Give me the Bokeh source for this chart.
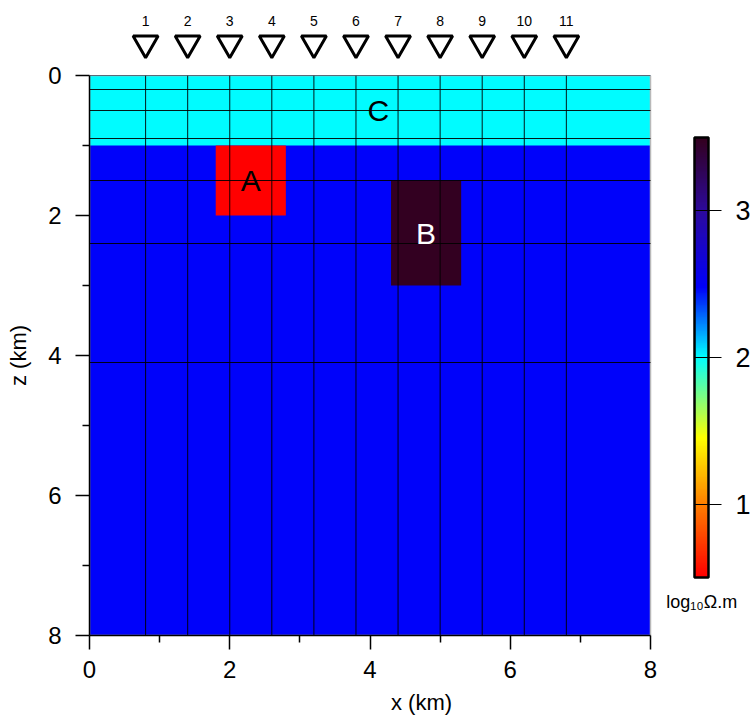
import numpy as np
from bokeh.plotting import figure
from bokeh.layouts import column
from bokeh.models import (Range1d, FixedTicker, ColorBar, LinearColorMapper,
                          ColumnDataSource, Label)
from bokeh.core.properties import value
from bokeh.embed import file_html
from bokeh.resources import INLINE

# ---- resistivity model (ohm.m) -------------------------------------------
block_name = ["background", "C", "A", "B"]
block_x0 = [0.0, 0.0, 1.8, 4.3]
block_x1 = [8.0, 8.0, 2.8, 5.3]
block_z0 = [0.0, 0.0, 1.0, 1.5]
block_z1 = [8.0, 1.0, 2.0, 3.0]
block_rho = [300.0, 100.0, 3.0, 3000.0]

# mesh lines drawn over the model
mesh_x = [0.8, 1.4, 2.0, 2.6, 3.2, 3.8, 4.4, 5.0, 5.6, 6.2, 6.8]
mesh_z = [0.0, 0.2, 0.5, 0.9, 1.5, 2.4, 4.1]

# MT stations on the surface
station_id = [1, 2, 3, 4, 5, 6, 7, 8, 9, 10, 11]
station_x = [0.8, 1.4, 2.0, 2.6, 3.2, 3.8, 4.4, 5.0, 5.6, 6.2, 6.8]

# anomaly tags
tag_text = ["A", "B", "C"]
tag_x = [2.3, 4.8, 4.12]
tag_z = [1.5, 2.25, 0.5]
tag_color = ["black", "white", "black"]

# colour scale, log10(ohm.m)
cbar_low, cbar_high = 0.5, 3.5
cbar_ticks = [1, 2, 3]
axis_major = [0, 2, 4, 6, 8]
axis_minor = [1, 3, 5, 7]

FONT = "Liberation Sans"

# palette: red -> orange -> yellow -> cyan -> blue -> indigo -> dark maroon
anchor_v = [0.5, 1.0, 1.45, 2.0, 2.48, 3.0, 3.5]
anchor_c = [(255, 0, 0), (255, 128, 0), (255, 255, 0), (0, 255, 255),
            (0, 0, 250), (45, 10, 156), (51, 0, 30)]
steps = np.linspace(cbar_low, cbar_high, 256)
chan = np.array(anchor_c, dtype=float)
palette = []
for v in steps:
    rgb = [np.interp(v, anchor_v, chan[:, k]) for k in range(3)]
    palette.append("#%02x%02x%02x" % tuple(int(round(c)) for c in rgb))
mapper = LinearColorMapper(palette=palette, low=cbar_low, high=cbar_high)

# ---- layout ---------------------------------------------------------------
W = 753
TOP_H, MAIN_H = 61, 656
main_top_px = 14
left_px, bottom_px = 89, 81
px_per_km = 561 / 8.0
x_range = Range1d(0, (W - left_px) / px_per_km)

# station strip above the model
top = figure(width=W, height=TOP_H, x_range=x_range,
             y_range=Range1d(-main_top_px / px_per_km, -(TOP_H + main_top_px) / px_per_km),
             output_backend="svg", toolbar_location=None,
             x_axis_type=None, y_axis_type=None,
             min_border_left=left_px, min_border_right=0,
             min_border_top=0, min_border_bottom=0)
top.xgrid.visible = False
top.ygrid.visible = False
top.outline_line_color = None

MARK_Z, NUM_Z = -0.46, -0.78
top.inverted_triangle(x=station_x, y=[MARK_Z] * len(station_x), size=25,
                      fill_color="white", line_color="black", line_width=3)
top.text(x=station_x, y=[NUM_Z] * len(station_x), text=[str(s) for s in station_id],
         text_align="center", text_baseline="middle",
         text_font=value(FONT), text_font_size="14px", text_color="black")

# model section
p = figure(width=W, height=MAIN_H, x_range=x_range, y_range=Range1d(8, 0),
           output_backend="svg", toolbar_location=None,
           min_border_left=left_px, min_border_right=0,
           min_border_top=main_top_px, min_border_bottom=bottom_px)
p.xgrid.visible = False
p.ygrid.visible = False
p.outline_line_color = None

z_top, z_bot = min(block_z0), max(block_z1)
x_left, x_right = min(block_x0), max(block_x1)

src = ColumnDataSource(dict(left=block_x0, right=block_x1, top=block_z0, bottom=block_z1,
                            logr=list(np.log10(block_rho)), name=block_name))
p.quad(left="left", right="right", top="top", bottom="bottom", source=src,
       fill_color={"field": "logr", "transform": mapper}, line_color=None)

# model outline (right edge visible as a light grey line)
p.quad(left=[x_left], right=[x_right], top=[z_top], bottom=[z_bot],
       fill_color=None, line_color="#b8b8b8", line_width=1.5)

# mesh
p.segment(x0=mesh_x, y0=[z_top] * len(mesh_x), x1=mesh_x, y1=[z_bot] * len(mesh_x),
          line_color="black", line_width=1, line_alpha=0.9)
p.segment(x0=[x_left] * len(mesh_z), y0=mesh_z, x1=[x_right] * len(mesh_z), y1=mesh_z,
          line_color="black", line_width=1, line_alpha=0.9)

# anomaly tags
p.text(x=tag_x, y=tag_z, text=tag_text, text_color=tag_color,
       text_align="center", text_baseline="middle",
       text_font=value(FONT), text_font_size="30px")

# axes
for ax in (p.xaxis[0], p.yaxis[0]):
    ax.bounds = (0, 8)
    ax.ticker = FixedTicker(ticks=axis_major, minor_ticks=axis_minor)
    ax.major_tick_out = 14
    ax.major_tick_in = 0
    ax.minor_tick_out = 7
    ax.minor_tick_in = 0
    ax.axis_line_width = 1.5
    ax.major_tick_line_width = 1.5
    ax.minor_tick_line_width = 1.5
    ax.major_label_text_font = FONT
    ax.major_label_text_font_size = "24px"
    ax.major_label_text_color = "black"
    ax.axis_label_text_font = FONT
    ax.axis_label_text_font_size = "22px"
    ax.axis_label_text_font_style = "normal"
    ax.axis_label_text_color = "black"
p.xaxis.axis_label = "x (km)"
p.yaxis.axis_label = "z (km)"
p.xaxis.major_label_standoff = 11
p.yaxis.major_label_standoff = 14
p.xaxis.axis_label_standoff = 9
p.yaxis.axis_label_standoff = 14

# colour bar
cb = ColorBar(color_mapper=mapper, ticker=FixedTicker(ticks=cbar_ticks),
              width=14, height=440, location=(605, 58), padding=0, margin=0,
              bar_line_color="black", bar_line_width=2.5,
              major_tick_line_color="black", major_tick_in=14, major_tick_out=13,
              minor_tick_line_color=None,
              major_label_text_font=FONT, major_label_text_font_size="27px",
              major_label_text_color="black", label_standoff=14,
              background_fill_color=None, border_line_color=None)
p.add_layout(cb)

p.add_layout(Label(x=8.73, y=7.52, text="log₁₀Ω.m", text_align="center",
                   text_baseline="middle", text_font=FONT, text_font_size="18px",
                   text_color="black"))

layout = column(top, p, spacing=0)
open("out.html", "w").write(file_html(layout, INLINE))
